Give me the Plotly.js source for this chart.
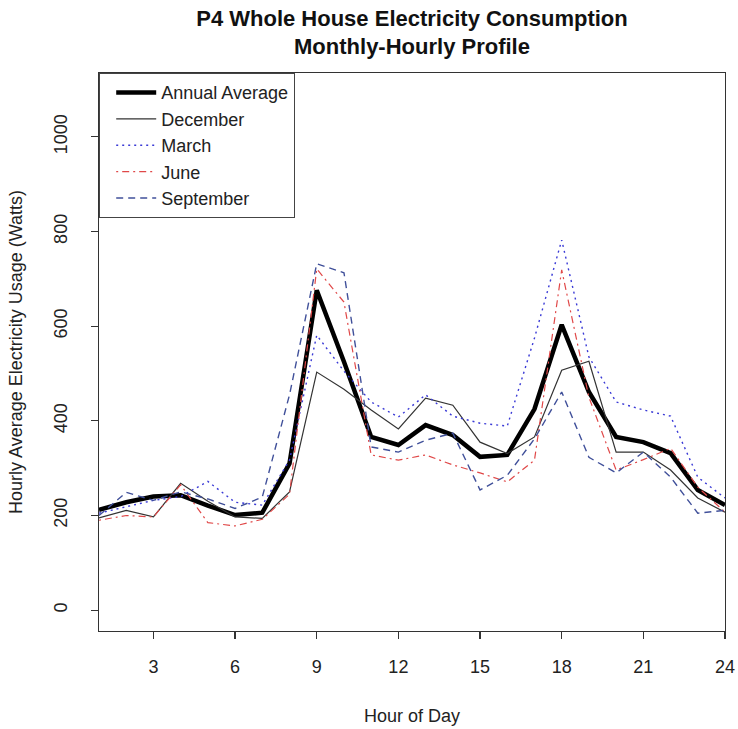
<!DOCTYPE html>
<html>
<head>
<meta charset="utf-8">
<script src="https://cdn.plot.ly/plotly-3.0.1.min.js"></script>
<style>
html,body{margin:0;padding:0;background:#fff;}
#chart{width:738px;height:729px;}
</style>
</head>
<body>
<div id="chart"></div>
<script>
const hours = [1,2,3,4,5,6,7,8,9,10,11,12,13,14,15,16,17,18,19,20,21,22,23,24];
const annualAverage = [212,228,240,243,221,201,206,310,676,525,366,349,391,370,324,328,425,603,461,366,355,332,254,222];
const december = [195,211,197,268,230,197,194,250,503,467,423,383,448,433,355,331,366,507,526,334,334,296,237,207];
const march = [205,218,232,240,272,228,222,317,581,505,440,408,455,410,395,389,575,782,535,440,423,410,281,237];
const june = [190,200,197,265,185,178,192,245,721,651,328,317,328,307,290,271,317,719,450,296,318,342,260,207];
const september = [200,249,232,250,235,215,239,455,732,713,345,334,359,374,254,285,362,461,323,290,334,281,205,211];
const xTicks = [3,6,9,12,15,18,21,24];
const yTicks = [0,200,400,600,800,1000];

const FONT = 'Liberation Sans, Arial, sans-serif';

const traces = [
  {name:'Annual Average', x:hours, y:annualAverage, mode:'lines', line:{color:'#000000', width:4.5}},
  {name:'December', x:hours, y:december, mode:'lines', line:{color:'#333333', width:1.2}},
  {name:'March', x:hours, y:march, mode:'lines', line:{color:'#3a3ad6', width:1.4, dash:'2px,4px'}},
  {name:'June', x:hours, y:june, mode:'lines', line:{color:'#e04848', width:1.2, dash:'2px,4px,7px,4px'}},
  {name:'September', x:hours, y:september, mode:'lines', line:{color:'#40509a', width:1.4, dash:'7px,5px'}}
];

const layout = {
  width:738, height:729,
  margin:{l:99, r:13, t:73, b:98},
  paper_bgcolor:'#ffffff', plot_bgcolor:'#ffffff',
  font:{family:FONT, size:18, color:'#222'},
  showlegend:true,
  title:{
    text:'P4 Whole House Electricity Consumption<br>Monthly-Hourly Profile',
    font:{family:FONT, size:22, weight:'bold', color:'#111'},
    x:0.5, xref:'paper', xanchor:'center',
    y:0.965, yref:'container', yanchor:'top'
  },
  xaxis:{
    range:[1,24], tickvals:xTicks, ticktext:xTicks.map(String),
    showgrid:false, zeroline:false,
    showline:true, mirror:true, linecolor:'#333', linewidth:1.3,
    ticks:'outside', ticklen:7, tickwidth:1.2, tickcolor:'#333',
    ticklabelstandoff:12,
    tickfont:{family:FONT, size:18, color:'#222'},
    title:{text:'Hour of Day', font:{family:FONT, size:18, color:'#222'}, standoff:33},
    automargin:false
  },
  yaxis:{
    range:[-44,1135], tickvals:yTicks, ticktext:yTicks.map(String),
    showgrid:false, zeroline:false,
    showline:true, mirror:true, linecolor:'#333', linewidth:1.3,
    ticks:'outside', ticklen:7, tickwidth:1.2, tickcolor:'#333',
    tickangle:-90, ticklabelstandoff:17,
    tickfont:{family:FONT, size:18, color:'#222'},
    title:{text:'Hourly Average Electricity Usage (Watts)', font:{family:FONT, size:18, color:'#222'}, standoff:23},
    automargin:false
  },
  legend:{
    x:0, y:1, xref:'paper', yref:'paper', xanchor:'left', yanchor:'top',
    bgcolor:'#ffffff', bordercolor:'#444', borderwidth:1.2,
    font:{family:FONT, size:18, color:'#222'},
    tracegroupgap:0, itemwidth:40, indentation:11
  }
};

Plotly.newPlot('chart', traces, layout, {displayModeBar:false, staticPlot:true});
</script>
</body>
</html>
